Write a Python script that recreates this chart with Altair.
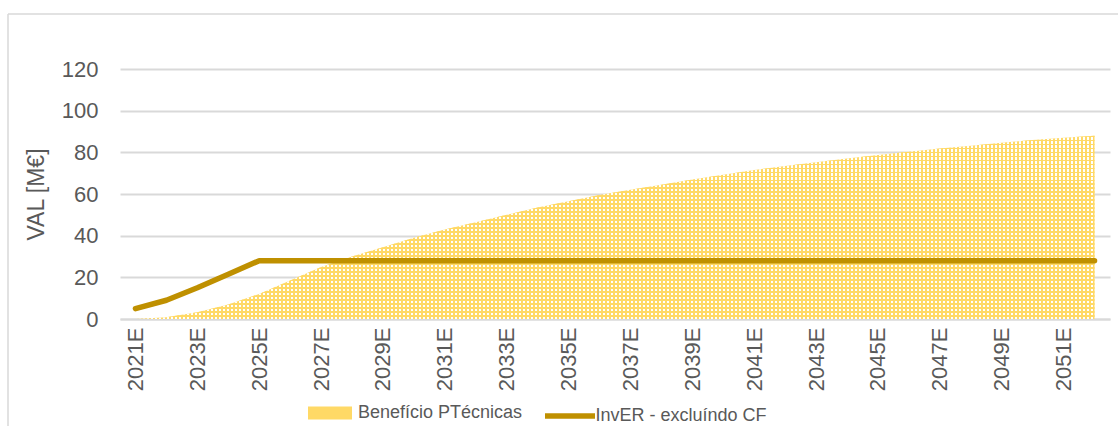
import altair as alt
import pandas as pd

# Categories and series
years = [
    "2021E", "2022E", "2023E", "2024E", "2025E", "2026E", "2027E", "2028E",
    "2029E", "2030E", "2031E", "2032E", "2033E", "2034E", "2035E", "2036E",
    "2037E", "2038E", "2039E", "2040E", "2041E", "2042E", "2043E", "2044E",
    "2045E", "2046E", "2047E", "2048E", "2049E", "2050E", "2051E", "2052E",
]
beneficio = [
    0, 0.8, 3.2, 7, 12, 18.5, 25, 30,
    34.5, 39, 43, 46.5, 50, 53.5, 56.5, 59.5,
    62, 64.5, 67, 69.3, 71.5, 73.5, 75.3, 77,
    78.7, 80.3, 81.8, 83.2, 84.6, 85.9, 87, 88,
]
inver = [
    5, 9, 15, 21.5, 28, 28, 28, 28,
    28, 28, 28, 28, 28, 28, 28, 28,
    28, 28, 28, 28, 28, 28, 28, 28,
    28, 28, 28, 28, 28, 28, 28, 28,
]
tick_labels = [
    "2021E", "2023E", "2025E", "2027E", "2029E", "2031E", "2033E", "2035E",
    "2037E", "2039E", "2041E", "2043E", "2045E", "2047E", "2049E", "2051E",
]
y_ticks = [0, 20, 40, 60, 80, 100, 120]
series_area = "Benefício PTécnicas"
series_line = "InvER - excluíndo CF"

YELLOW = "#FFD966"
GOLD = "#BF9000"
GRID = "#D9D9D9"
TEXT = "#595959"
FONT = "Liberation Sans"

W, H = 990, 250

df = pd.DataFrame({
    "ano": years,
    "beneficio": beneficio,
    "inver": inver,
    "s_area": series_area,
    "s_line": series_line,
})


def stripes(n, on, off, duty, horizontal):
    """Hard-edged repeating stripes as a linear gradient."""
    stops = []
    for i in range(n):
        a = i / n
        b = (i + duty) / n
        c = (i + 1) / n
        stops += [
            {"offset": round(a, 6), "color": on},
            {"offset": round(b, 6), "color": on},
            {"offset": round(b, 6), "color": off},
            {"offset": round(min(c, 1), 6), "color": off},
        ]
    g = {"gradient": "linear", "stops": stops}
    if horizontal:
        g.update({"x1": 0, "x2": 1, "y1": 0, "y2": 0})
    else:
        g.update({"x1": 0, "x2": 0, "y1": 0, "y2": 1})
    return g


CLEAR = "rgba(255,255,255,0)"
dot_columns = stripes(240, "#FFFFFF", CLEAR, 0.5, True)
dot_rows = stripes(46, YELLOW, CLEAR, 0.42, False)

x_enc = alt.X(
    "ano:O",
    sort=years,
    scale=alt.Scale(type="point", padding=0.5),
    axis=alt.Axis(
        values=tick_labels,
        labelAngle=270,
        labelPadding=8,
        ticks=False,
        domainColor=GRID,
        domainWidth=1.8,
        grid=False,
        title=None,
    ),
)
y_enc = alt.Y(
    "beneficio:Q",
    scale=alt.Scale(domain=[0, 120]),
    axis=alt.Axis(
        values=y_ticks,
        domain=False,
        ticks=False,
        labelPadding=22,
        gridColor=GRID,
        gridWidth=1.8,
        title="VAL [M€]",
        titlePadding=13,
        titleFontWeight="normal",
    ),
)

base = alt.Chart(df)

# Legend swatches drawn wider than their nominal symbol size so that the
# legend rows stay compact.
area_fill = base.mark_area(opacity=1).encode(
    x=x_enc,
    y=y_enc,
    fill=alt.Fill(
        "s_area:N",
        scale=alt.Scale(range=[YELLOW]),
        legend=alt.Legend(
            title=None,
            orient="none",
            legendX=199,
            legendY=333,
            padding=0,
            symbolType="M-2,-0.6H2V0.6H-2Z",
            symbolSize=484,
            symbolStrokeWidth=0,
            symbolOpacity=1,
            labelOffset=17,
            labelLimit=0,
        ),
    ),
)
area_cols = base.mark_area(fill=dot_columns).encode(x=x_enc, y=y_enc)
area_rows = base.mark_area(fill=dot_rows).encode(x=x_enc, y=y_enc)

line = base.mark_line(strokeWidth=5.5, strokeCap="round", strokeJoin="round").encode(
    x=x_enc,
    y=alt.Y("inver:Q"),
    stroke=alt.Stroke(
        "s_line:N",
        scale=alt.Scale(range=[GOLD]),
        legend=alt.Legend(
            title=None,
            orient="none",
            legendX=434.5,
            legendY=331.5,
            padding=0,
            symbolType="M-2,0H2",
            symbolSize=625,
            symbolStrokeWidth=5.5,
            labelOffset=10,
            labelLimit=0,
        ),
    ),
)

# Outer frame (top and left edges of the chart box)
frame_data = alt.Data(values=[{"k": 1}])
frame_top = alt.Chart(frame_data).mark_rule(color=GRID, strokeWidth=1.5).encode(
    x=alt.value(-112), x2=alt.value(W + 20), y=alt.value(-55)
)
frame_left = alt.Chart(frame_data).mark_rule(color=GRID, strokeWidth=1.5).encode(
    x=alt.value(-112), y=alt.value(-55), y2=alt.value(H + 120)
)

chart = (
    alt.layer(frame_top, frame_left, area_fill, area_cols, area_rows, line)
    .properties(
        width=W,
        height=H,
        autosize=alt.AutoSizeParams(type="none"),
        padding={"left": 120, "top": 69, "right": 8, "bottom": 107},
        background="white",
    )
    .configure_view(stroke=None)
    .configure_axis(
        labelFont=FONT,
        labelFontSize=22,
        labelColor=TEXT,
        titleFont=FONT,
        titleFontSize=23,
        titleColor=TEXT,
    )
    .configure_legend(
        labelFont=FONT,
        labelFontSize=18,
        labelColor=TEXT,
    )
)

chart.save("out.html", embed_options={"renderer": "svg", "actions": False})
